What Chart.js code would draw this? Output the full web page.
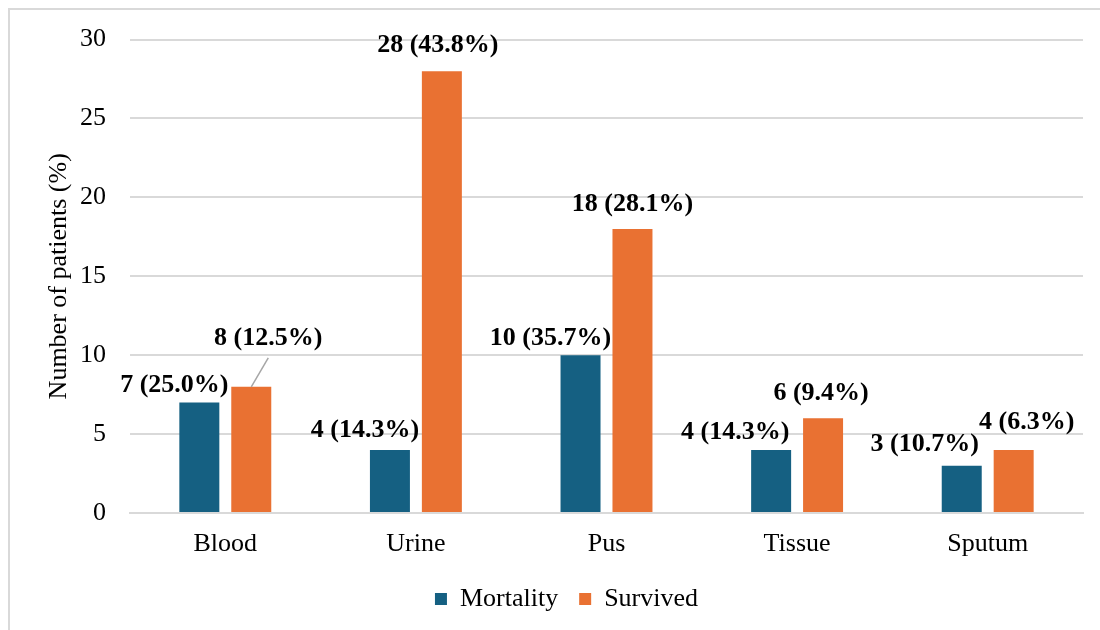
<!DOCTYPE html>
<html>
<head>
<meta charset="utf-8">
<script src="https://cdn.jsdelivr.net/npm/chart.js@4.4.1/dist/chart.umd.min.js"></script>
<style>
  html, body { margin: 0; padding: 0; background: #ffffff; }
  #wrap { width: 1100px; height: 630px; }
</style>
</head>
<body>
<div id="wrap"><canvas id="c" width="1100" height="630"></canvas></div>
<script>
// Specimen types and patient counts per outcome
const categories = ['Blood', 'Urine', 'Pus', 'Tissue', 'Sputum'];
const mortality = [7, 4, 10, 4, 3];
const survived = [8, 28, 18, 6, 4];
const mortalityPct = ['25.0', '14.3', '35.7', '14.3', '10.7'];
const survivedPct = ['12.5', '43.8', '28.1', '9.4', '6.3'];
const yTicks = [0, 5, 10, 15, 20, 25, 30];

// Label placement tweaks (pixels from the top centre of each bar)
const mortalityLabelShift = [[-25, -17], [-25, -20], [-30, -17], [-36, -18], [-37, -21]];
const survivedLabelShift = [[17, -48], [-4, -26], [0, -25], [-2, -25], [13, -28]];
const survivedLeader = [true, false, false, false, false];

const FONT = '"Liberation Serif", "Times New Roman", serif';
const BLUE = '#156082';
const ORANGE = '#E97132';
const GRID = '#d9d9d9';

const frame = {
  id: 'frame',
  beforeDraw(chart) {
    const ctx = chart.ctx;
    ctx.save();
    ctx.fillStyle = '#ffffff';
    ctx.fillRect(0, 0, chart.width, chart.height);
    ctx.strokeStyle = '#d9d9d9';
    ctx.lineWidth = 2;
    ctx.strokeRect(9, 9, chart.width + 20, chart.height + 20);
    ctx.restore();
  }
};

// Nudge the legend a little to the right of the canvas centre
const legendShift = {
  id: 'legendShift',
  afterLayout(chart) {
    if (chart.legend) {
      chart.legend.left += 25;
      chart.legend.right += 25;
    }
  }
};

const valueLabels = {
  id: 'valueLabels',
  afterDatasetsDraw(chart) {
    const ctx = chart.ctx;
    ctx.save();
    ctx.font = 'bold 26px ' + FONT;
    ctx.fillStyle = '#000000';
    ctx.textAlign = 'center';
    ctx.textBaseline = 'middle';
    const sets = [
      { values: mortality, pct: mortalityPct, shift: mortalityLabelShift, leader: null },
      { values: survived, pct: survivedPct, shift: survivedLabelShift, leader: survivedLeader }
    ];
    sets.forEach((s, di) => {
      const meta = chart.getDatasetMeta(di);
      meta.data.forEach((bar, i) => {
        const lx = bar.x + s.shift[i][0];
        const ly = bar.y + s.shift[i][1];
        if (s.leader && s.leader[i]) {
          ctx.beginPath();
          ctx.strokeStyle = '#a6a6a6';
          ctx.lineWidth = 1.5;
          ctx.moveTo(bar.x, bar.y);
          ctx.lineTo(lx, ly + 19);
          ctx.stroke();
        }
        ctx.fillText(s.values[i] + ' (' + s.pct[i] + '%)', lx, ly);
      });
    });
    ctx.restore();
  }
};

new Chart(document.getElementById('c'), {
  type: 'bar',
  data: {
    labels: categories,
    datasets: [
      { label: 'Mortality', data: mortality, backgroundColor: BLUE,
        categoryPercentage: 0.545, barPercentage: 0.77 },
      { label: 'Survived', data: survived, backgroundColor: ORANGE,
        categoryPercentage: 0.545, barPercentage: 0.77 }
    ]
  },
  options: {
    responsive: false,
    animation: false,
    devicePixelRatio: 1,
    layout: { padding: { top: 38, right: 17, left: 0, bottom: 8 } },
    plugins: {
      tooltip: { enabled: false },
      legend: {
        position: 'bottom',
        labels: {
          font: { family: FONT, size: 26 },
          color: '#000000',
          boxWidth: 12,
          boxHeight: 12,
          padding: 21
        }
      }
    },
    scales: {
      x: {
        grid: { display: false, drawTicks: false },
        border: { display: true, color: GRID, width: 2 },
        ticks: { font: { family: FONT, size: 26 }, color: '#000000', padding: 16 },
        afterFit(scale) { scale.height = 52; }
      },
      y: {
        min: 0,
        max: 30,
        afterBuildTicks(scale) { scale.ticks = yTicks.map(v => ({ value: v })); },
        grid: { color: GRID, lineWidth: 2, drawTicks: false },
        border: { display: false },
        ticks: { font: { family: FONT, size: 26 }, color: '#000000', padding: 24 },
        title: {
          display: true,
          text: 'Number of patients (%)',
          font: { family: FONT, size: 26 },
          color: '#000000',
          padding: { top: 44, bottom: 0 }
        },
        afterFit(scale) { scale.width = 130; }
      }
    }
  },
  plugins: [frame, legendShift, valueLabels]
});
</script>
</body>
</html>
